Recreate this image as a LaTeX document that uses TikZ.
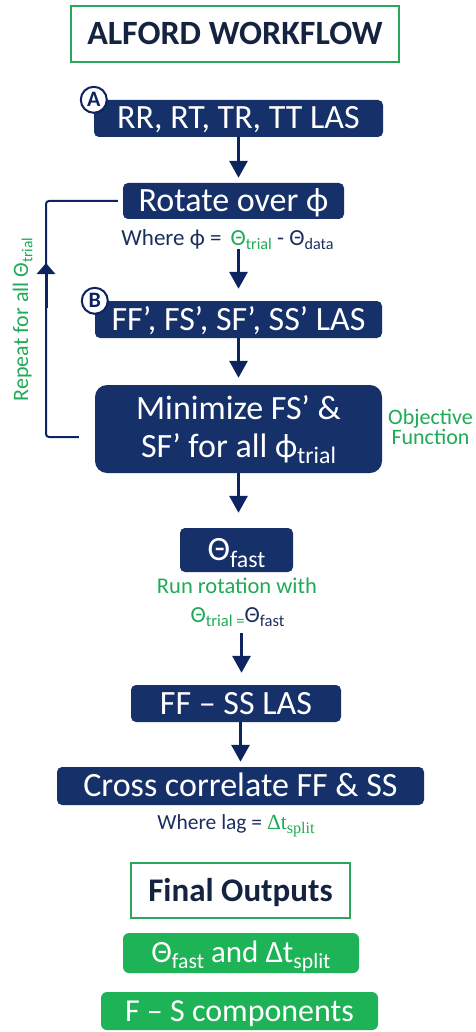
\documentclass[tikz,border=0pt]{standalone}
\usepackage{fontspec}
\usepackage{graphicx}
\setmainfont{Carlito}
\newfontfamily\serifgr{Liberation Serif}
\usetikzlibrary{arrows.meta}
\definecolor{navyfill}{HTML}{16306A}
\definecolor{arrowc}{HTML}{0E2461}
\definecolor{navytext}{HTML}{1B2F5E}
\definecolor{titletext}{HTML}{14233F}
\definecolor{greenfill}{HTML}{1EB356}
\definecolor{greentext}{HTML}{1FAA55}
\definecolor{greenline}{HTML}{2AA65A}
\newcommand\sbs[2][0.7]{\raisebox{-0.2em}{\scalebox{#1}{#2}}}
\begin{document}
\begin{tikzpicture}[x=1pt,y=-1pt,
  navybox/.style={fill=navyfill, rounded corners=5pt, text=white, inner sep=0pt,
    font=\fontsize{34}{38}\selectfont, text height=23pt, text depth=2pt},
  greenbox/.style={fill=greenfill, rounded corners=6pt, text=white, inner sep=0pt,
    font=\fontsize{32}{38}\selectfont, text height=23pt, text depth=2pt},
  framebox/.style={draw=greenline, line width=2pt, inner sep=0pt, text=titletext,
    font=\fontsize{34}{38}\selectfont\bfseries, text height=23pt, text depth=1pt},
  badge/.style={circle, draw=arrowc, line width=2pt, fill=white, minimum size=26pt,
    inner sep=0pt, text=arrowc, font=\fontsize{22}{22}\selectfont\bfseries},
  note/.style={inner sep=0pt, text=navytext, font=\fontsize{22}{24}\selectfont},
  arr/.style={draw=arrowc, line width=3pt, -{Triangle[width=18pt,length=17pt]}},
  loopline/.style={draw=arrowc, line width=2pt, rounded corners=3pt},
  looparr/.style={draw=arrowc, line width=3pt, -{Triangle[width=18pt,length=11pt]}}
]
\useasboundingbox (0,0) rectangle (475,1032);

\node[framebox, minimum width=328pt, minimum height=56pt] (title) at (235,34) {ALFORD WORKFLOW};

\node[navybox, minimum width=289pt, minimum height=37pt] (rr) at (238.5,118.5) {RR, RT, TR, TT LAS};
\node[badge] (ba) at (rr.north west) {A};

\node[navybox, minimum width=221pt, minimum height=36pt] (rot) at (233.5,201) {Rotate over ϕ};
\node[note, anchor=base, font=\fontsize{23}{24}\selectfont] (where1) at (227.5,245)
  {Where ϕ = \,\textcolor{greentext}{Θ\sbs{trial}} - Θ\sbs{data}};

\node[navybox, minimum width=287pt, minimum height=37pt] (ff) at (238.5,319.5) {FF’, FS’, SF’, SS’ LAS};
\node[badge] (bb) at (ff.north west) {B};

\node[navybox, rounded corners=12pt, minimum width=287pt, minimum height=88pt,
  align=center, text height=59pt, text depth=3pt] (min) at (238.5,429)
  {Minimize FS’ \&\\SF’ for all ϕ\sbs{trial}};

\node[inner sep=0pt, align=center, text=greentext, font=\fontsize{22}{16}\selectfont,
  text height=31pt, text depth=3pt] (obj) at (430.5,430) {Objective\\Function};

\node[navybox, minimum width=113pt, minimum height=44pt] (thf) at (236.5,550) {Θ\sbs{fast}};
\node[note, anchor=base, text=greentext, font=\fontsize{22.5}{24}\selectfont] (run) at (237,593) {Run rotation with};
\node[note, anchor=base, font=\fontsize{23}{24}\selectfont] (eq) at (237.5,622)
  {\textcolor{greentext}{Θ\sbs[0.72]{trial =}}Θ\sbs[0.72]{fast}};

\node[navybox, minimum width=210pt, minimum height=37pt] (ffss) at (236,703.5) {FF – SS LAS};
\node[navybox, minimum width=367pt, minimum height=38pt] (cc) at (240.5,786) {Cross correlate FF \& SS};
\node[note, anchor=base, font=\fontsize{21.5}{24}\selectfont] (lag) at (236,829)
  {Where lag = \textcolor{greentext}{\serifgr Δt\sbs[0.75]{split}}};

\node[framebox, line width=1.5pt, font=\fontsize{33}{38}\selectfont\bfseries,
  minimum width=219pt, minimum height=55pt] (fo) at (240.5,890.5) {Final Outputs};
\node[greenbox, font=\fontsize{31}{34}\selectfont, text height=21pt,
  minimum width=236pt, minimum height=40pt] (g1) at (241,953) {Θ\sbs{fast} and Δt\sbs{split}};
\node[greenbox, minimum width=277pt, minimum height=38pt] (g2) at (239.5,1011) {F – S components};

% main arrows
\draw[arr, shorten >=5pt] (rr.south) -- (rr.south |- rot.north);
\draw[arr, shorten <=4pt, shorten >=12pt] (where1.base -| ff.north) -- (ff.north);
\draw[arr, shorten >=7pt] (ff.south) -- (min.north);
\draw[arr, shorten >=15pt] (min.south) -- (min.south |- thf.north);
\draw[arr, shorten <=11pt, shorten >=12pt] ([xshift=4pt]eq.base) -- ([xshift=4pt]eq.base |- ffss.north);
\draw[arr, shorten >=5pt] (cc.north |- ffss.south) -- (cc.north);

% loop back
\coordinate (lt) at (46,201);
\draw[loopline] ([xshift=-16pt,yshift=-8pt]min.west) -| (lt) -- ([xshift=-5pt]rot.west);
\coordinate (la) at (46,308);
\coordinate (lb) at (46,263);
\draw[looparr] (la) -- (lb);
\node[inner sep=0pt, rotate=90, anchor=base, text=greentext, font=\fontsize{22}{24}\selectfont]
  (rep) at (28,319.5) {Repeat for all Θ\sbs{trial}};
\end{tikzpicture}
\end{document}
